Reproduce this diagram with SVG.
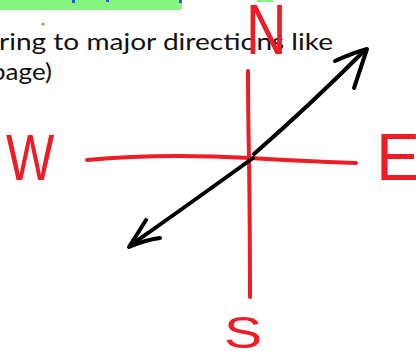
<svg xmlns="http://www.w3.org/2000/svg" width="416" height="351" viewBox="0 0 416 351">
<style>
.txt{font-family:Lato,"Open Sans","Liberation Sans",sans-serif;font-size:24px;fill:#111}
.red{fill:none;stroke:#EE1C25;stroke-width:4;stroke-linecap:round;stroke-linejoin:round}
.blk{fill:none;stroke:#000;stroke-width:4;stroke-linecap:round;stroke-linejoin:round}
.lbl{font-family:"Liberation Sans",Arial,sans-serif;fill:#EE1C25}
</style>
<rect width="416" height="351" fill="#fff"/>
<g id="header">
<path d="M0 0 H182 V8 Q182 10 179 10 H0 Z" fill="#86F57E"/>
<rect x="257" y="0" width="16" height="2" fill="#86F57E"/>
<rect x="72" y="0" width="3" height="3" fill="#3355DD"/>
<rect x="106" y="0" width="3" height="2" fill="#3355DD"/>
<rect x="179" y="0" width="3" height="3" fill="#3355DD"/>
<circle cx="43" cy="24" r="1.5" fill="#F07020"/>
<text class="txt" x="-1" y="50" textLength="334" lengthAdjust="spacingAndGlyphs">ring to major directions like</text>
<text class="txt" x="-9" y="80" textLength="61" lengthAdjust="spacingAndGlyphs">page)</text>
</g>
<g id="axes">
<path class="red" d="M248 71 Q248 110 249 158 Q250 230 250 297"/>
<path class="red" d="M87 160 Q160 153 250 158 Q300 161 356 163"/>
</g>
<g id="connectors">
<path class="blk" d="M131 245 Q195 200 253 158"/>
<path class="blk" d="M254 154 Q310 105 362 53"/>
<path class="blk" d="M335 61 Q355 52 367 49 Q360 70 354 88"/>
<path class="blk" d="M146 220 Q136 236 129 247 Q145 240 160 238"/>
</g>
<g id="node-N"><text class="lbl" transform="translate(246,54) scale(0.8,1)" font-size="70">N</text></g>
<g id="node-W"><text class="lbl" transform="translate(6,180) scale(0.8,1)" font-size="64">W</text></g>
<g id="node-E"><text class="lbl" transform="translate(376,180)" font-size="66">E</text></g>
<g id="node-S"><text class="lbl" transform="translate(224,348) scale(1.3,1)" font-size="44">S</text></g>
</svg>
